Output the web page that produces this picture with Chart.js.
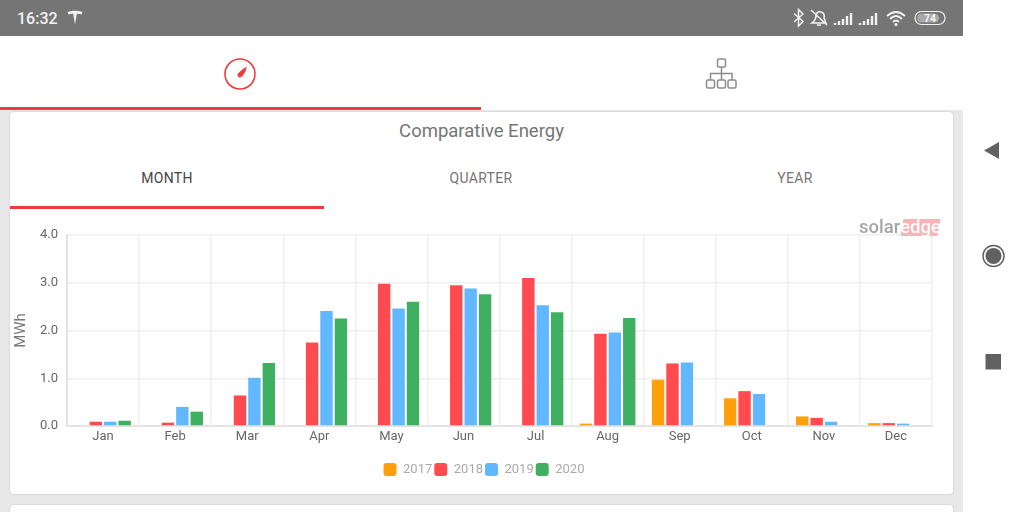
<!DOCTYPE html>
<html lang="en">
<head>
<meta charset="UTF-8">
<title>Comparative Energy</title>
<script src="https://cdn.jsdelivr.net/npm/chart.js"></script>
<style>
    html, body { margin: 0; padding: 0; }
    body { width: 1024px; height: 512px; position: relative; overflow: hidden; background: #fff; font-family: Roboto, sans-serif; }
    .abs { position: absolute; }
    #content { left: 0; top: 110px; width: 963px; height: 402px; background: #e8e8e8; }
    #statusbar { left: 0; top: 0; width: 963px; height: 36px; background: #757575; }
    #time { left: 17px; top: 9px; color: #f2f2f2; font-size: 16px; font-weight: 500; line-height: 19px; }
    #header { left: 0; top: 36px; width: 963px; height: 74px; background: #fff; }
    #headerLine { left: 0; top: 107px; width: 481px; height: 3px; background: #ee3b3f; }
    .card { left: 10px; width: 943px; background: #fff; border-radius: 4px; box-shadow: 0 0 2px rgba(0,0,0,.2); }
    #title { left: 10px; top: 120px; width: 943px; text-align: center; color: #757575; font-size: 18.5px; line-height: 22px; }
    .tab { top: 170px; width: 314px; text-align: center; font-size: 14px; font-weight: 400; letter-spacing: .35px; line-height: 17px; color: #757575; }
    #tabLine { left: 10px; top: 206px; width: 314px; height: 3px; background: #ee3b3f; }
    #chartBox { left: 11px; top: 222px; width: 941px; height: 268px; }
    #logoBack { left: 902px; top: 219px; width: 37px; height: 17px; background: #f9b4b7; transform: skewX(-10deg); }
    #logo { left: 859px; top: 216px; font-size: 18.5px; font-weight: 500; line-height: 22px; color: #a6a6a6; }
    #logo span { color: #fff; }
</style>
</head>
<body>
<div class="abs" id="content"></div>
<div class="abs" id="statusbar"></div>
<div class="abs" id="time">16:32</div>
<svg class="abs" style="left:66px;top:9px" width="18" height="18" viewBox="0 0 18 18">
    <path d="M1.5 3 Q9 0.5 16.5 3 L15.5 5.5 Q13 4.5 10.8 4.8 L9 15.5 L7.2 4.8 Q5 4.5 2.5 5.5 Z" fill="#f2f2f2"/>
</svg>
<svg class="abs" style="left:790px;top:8px" width="160" height="20" viewBox="0 0 160 20" fill="none" stroke="#f2f2f2" stroke-width="1.5">
    <path d="M4 5.5 L13 13.5 L8.5 18 V1.5 L13 6 L4 14"/>
    <path d="M22 15 Q26 12 26 7 Q27 3 31 4 Q35 5 34 10 L36 15 Z M21 2 L37 17"/>
    <path d="M27 17 h4"/>
    <g stroke-width="2.4">
        <path d="M45 17 v-2 M49 17 v-4 M53 17 v-6 M57 17 v-9 M61 17 v-12"/>
        <path d="M70 17 v-2 M74 17 v-4 M78 17 v-6 M82 17 v-9 M86 17 v-12"/>
    </g>
    <path d="M97 8 Q106 0 115 8 M100 11 Q106 5 112 11 M103 14 Q106 11 109 14" stroke-width="1.8"/>
    <circle cx="106" cy="16.5" r="1.5" fill="#f2f2f2" stroke="none"/>
    <rect x="125" y="3.5" width="30" height="13" rx="6.5" stroke-width="1.2"/>
    <rect x="127" y="5.5" width="22" height="9" rx="4.5" fill="#a8a8a8" stroke="none"/>
    <text x="140" y="14" font-family="Roboto" font-size="10.5" font-weight="700" fill="#f5f5f5" stroke="none" text-anchor="middle">74</text>
</svg>
<div class="abs" id="header"></div>
<div class="abs" id="headerLine"></div>
<svg class="abs" style="left:222px;top:56px" width="36" height="36" viewBox="0 0 36 36">
    <circle cx="18" cy="18" r="15" fill="none" stroke="#ee3b3f" stroke-width="1.6"/>
    <path d="M25 10.5 Q24 16 20.5 20 Q18 22.5 16 20.5 Q14.5 18.5 17 16.5 Q20 13 25 10.5 Z" fill="#ee3b3f"/>
</svg>
<svg class="abs" style="left:704px;top:57px" width="36" height="36" viewBox="0 0 36 36" fill="none" stroke="#8c8c8c" stroke-width="1.5">
    <rect x="13.5" y="2" width="8" height="8" rx="1.5"/>
    <rect x="2.5" y="23" width="8" height="8" rx="1.5"/>
    <rect x="13.5" y="23" width="8" height="8" rx="1.5"/>
    <rect x="24" y="23" width="8" height="8" rx="1.5"/>
    <path d="M17.5 10 V23 M6.5 23 V16.5 H28 V23"/>
</svg>
<div class="abs card" style="top:112px;height:382px"></div>
<div class="abs card" style="top:505px;height:20px"></div>
<div class="abs" id="title">Comparative Energy</div>
<div class="abs tab" style="left:10px;color:#444">MONTH</div>
<div class="abs tab" style="left:324px">QUARTER</div>
<div class="abs tab" style="left:638px">YEAR</div>
<div class="abs" id="tabLine"></div>
<div class="abs" id="chartBox"><canvas id="energyChart"></canvas></div>
<div class="abs" id="logoBack"></div>
<div class="abs" id="logo">solar<span>edge</span></div>
<svg class="abs" style="left:975px;top:135px" width="36" height="240" viewBox="0 0 36 240" fill="#616161">
    <path d="M24 7 V24 L9 15.5 Z"/>
    <circle cx="18.5" cy="121" r="10.5" fill="none" stroke="#616161" stroke-width="1.5"/>
    <circle cx="18.5" cy="121" r="8"/>
    <rect x="10.5" y="219" width="15.5" height="15.5"/>
</svg>

<script>
    // values, MWh per month
    const months = ['Jan', 'Feb', 'Mar', 'Apr', 'May', 'Jun', 'Jul', 'Aug', 'Sep', 'Oct', 'Nov', 'Dec'];
    const years = ['2017', '2018', '2019', '2020'];
    const data2017 = [0, 0, 0, 0, 0, 0, 0, 0.05, 0.97, 0.58, 0.2, 0.06];
    const data2018 = [0.09, 0.07, 0.64, 1.75, 2.98, 2.95, 3.1, 1.93, 1.31, 0.73, 0.17, 0.06];
    const data2019 = [0.09, 0.4, 1.01, 2.41, 2.46, 2.88, 2.53, 1.96, 1.33, 0.67, 0.09, 0.05];
    const data2020 = [0.11, 0.3, 1.32, 2.25, 2.6, 2.76, 2.38, 2.26, null, null, null, null];
    const colors = ['#ff9f0a', '#ff4a4f', '#62b8ff', '#3fb061'];

    // the legend is centred on the whole card in the reference, not on the plot
    const shiftLegend = {
        id: 'shiftLegend',
        afterLayout: function (chart) {
            chart.legend.left += 12.5;
            chart.legend.right += 12.5;
        }
    };

    const ctx = document.getElementById('energyChart').getContext('2d');
    const chart = new Chart(ctx, {
        type: 'bar',
        plugins: [shiftLegend],
        data: {
            labels: months,
            datasets: [data2017, data2018, data2019, data2020].map((values, i) => ({
                label: years[i],
                data: values,
                backgroundColor: colors[i],
                categoryPercentage: 0.8,
                barPercentage: 0.86
            }))
        },
        options: {
            responsive: true,
            maintainAspectRatio: false,
            animation: false,
            layout: { autoPadding: false, padding: { top: 13, right: 20, bottom: 4, left: 0 } },
            scales: {
                x: {
                    afterFit: function (scale) { scale.height = 35; },
                    grid: { color: '#f0f0f0', lineWidth: 1.5, drawTicks: false },
                    border: { color: '#e4e4e4', width: 2 },
                    ticks: { color: '#666', font: { family: 'Roboto', size: 13 }, padding: 3, maxRotation: 0 }
                },
                y: {
                    min: 0,
                    max: 4,
                    afterFit: function (scale) {
                        scale.width = 56;
                        scale.paddingTop = 0;
                        scale.paddingBottom = 0;
                    },
                    grid: { color: '#f0f0f0', lineWidth: 1.5, drawTicks: false },
                    border: { color: '#e4e4e4', width: 2 },
                    ticks: {
                        stepSize: 1,
                        color: '#666',
                        font: { family: 'Roboto', size: 13 },
                        padding: 9,
                        callback: function (value) { return value.toFixed(1); }
                    },
                    title: { display: true, text: 'MWh', color: '#777', font: { family: 'Roboto', size: 15 }, padding: 1 }
                }
            },
            plugins: {
                legend: {
                    position: 'bottom',
                    labels: {
                        useBorderRadius: true,
                        borderRadius: 3,
                        boxWidth: 13,
                        boxHeight: 13,
                        padding: 2,
                        color: '#aaa',
                        font: { family: 'Roboto', size: 13 }
                    }
                },
                tooltip: { enabled: false }
            }
        }
    });
</script>
</body>
</html>
